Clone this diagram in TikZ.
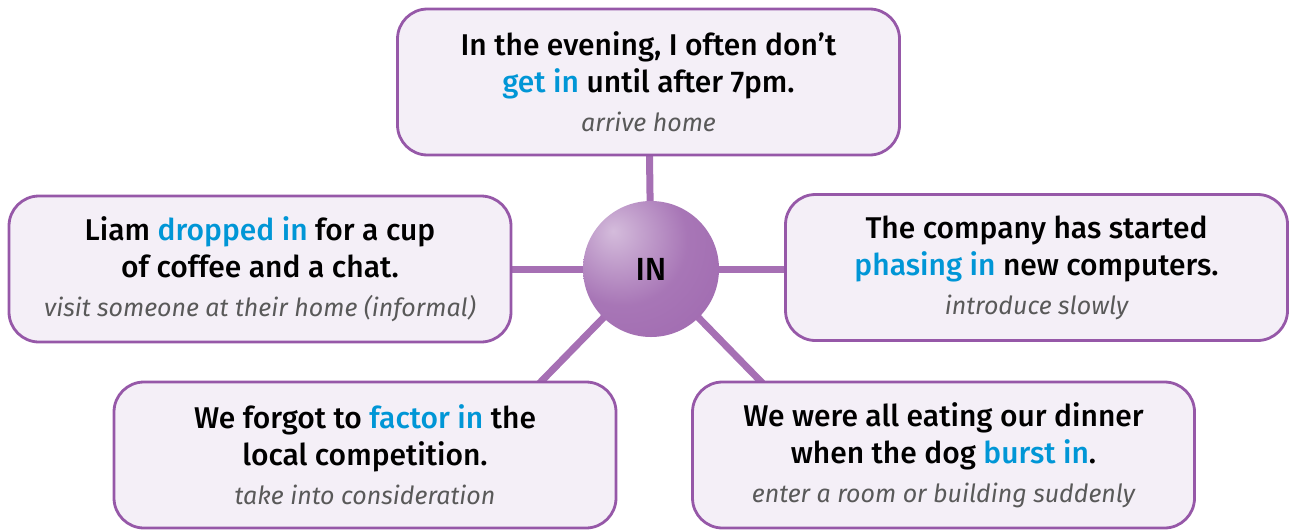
\documentclass[tikz,border=0pt]{standalone}
\usepackage{fontspec}
\setmainfont{Fira Sans}
\newfontfamily\midfont{Fira Sans Medium}
\usetikzlibrary{backgrounds}
\definecolor{inpurple}{RGB}{150,88,168}
\definecolor{inspoke}{RGB}{166,112,180}
\definecolor{infill}{RGB}{244,239,247}
\definecolor{inblue}{RGB}{0,150,214}
\definecolor{inball}{RGB}{160,106,176}
\pgfdeclareradialshading{hubglow}{\pgfpoint{-14bp}{14bp}}{%
  color(0bp)=(inball!45!white); color(24bp)=(inball!92!white);
  color(44bp)=(inball); color(58bp)=(inball!80!black); color(100bp)=(inball!65!black)}
\tikzset{
  card/.style = {draw=inpurple, fill=infill, line width=1.4pt, rounded corners=15pt,
    minimum width=251pt, minimum height=73pt, align=center, inner sep=0pt,
    font=\midfont\fontsize{15}{18.5}\selectfont},
  spoke/.style = {draw=inspoke, line width=3.5pt},
  hub/.style = {circle, minimum size=68pt, inner sep=0pt, shading=hubglow,
    font=\midfont\fontsize{16}{18}\selectfont}
}
\newcommand{\pv}[1]{\textcolor{inblue}{#1}}
\newcommand{\gloss}[1]{{\normalfont\itshape\fontsize{12.5}{19}\selectfont\color{black!65}#1}}

\begin{document}
\begin{tikzpicture}[x=0.5pt, y=-0.5pt]
  \useasboundingbox (0,0) rectangle (1293,530);
  \node[card] (evening) at (648.5,82) {In the evening, I often don’t\\
    \pv{get in} until after 7pm.\\[1pt] \gloss{arrive home}};
  \node[card] (liam) at (260,269) {Liam \pv{dropped in} for a cup\\
    of coffee and a chat.\\[1pt] \gloss{visit someone at their home (informal)}};
  \node[card] (company) at (1036.5,267.5) {The company has started\\
    \pv{phasing in} new computers.\\[1pt] \gloss{introduce slowly}};
  \node[card] (factor) at (365,455) {We forgot to \pv{factor in} the\\
    local competition.\\[1pt] \gloss{take into consideration}};
  \node[card] (dinner) at (943.5,455) {We were all eating our dinner\\
    when the dog \pv{burst in}.\\[1pt] \gloss{enter a room or building suddenly}};
  \node[hub] (hub) at (651,269) {IN};
  % diagonal spokes end under the lower cards
  \coordinate (lowleft) at (528,395);
  \coordinate (lowright) at (774,395);
  \begin{scope}[on background layer]
    \draw[spoke] (hub.center) -- (evening.center);
    \draw[spoke] (hub.center) -- (liam.center);
    \draw[spoke] (hub.center) -- (hub -| company.center);
    \draw[spoke] (hub.center) -- (lowleft);
    \draw[spoke] (hub.center) -- (lowright);
  \end{scope}
\end{tikzpicture}
\end{document}
